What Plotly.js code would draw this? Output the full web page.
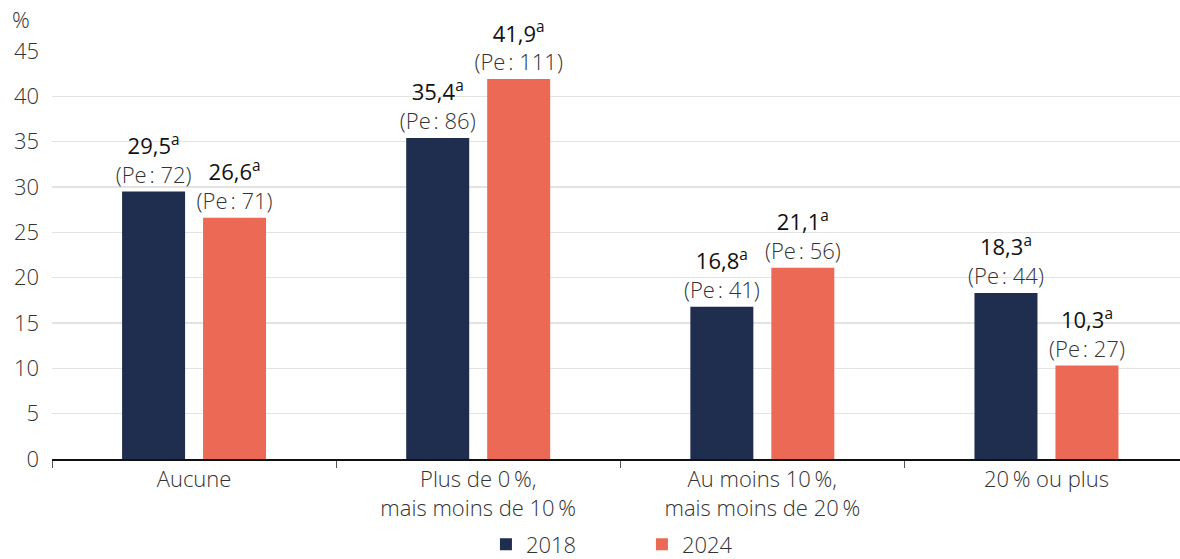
<!DOCTYPE html>
<html>
<head>
<meta charset="utf-8">
<script src="https://cdn.plot.ly/plotly-3.0.1.min.js"></script>
<style>html,body{margin:0;padding:0;background:#fff;}#chart{width:1180px;height:559px;}</style>
</head>
<body>
<div id="chart"></div>
<script>
const categories = ["Aucune", "Plus de 0\u2009%,<br>mais moins de 10\u2009%", "Au moins 10\u2009%,<br>mais moins de 20\u2009%", "20\u2009% ou plus"];
const values2018 = [29.5, 35.4, 16.8, 18.3];
const values2024 = [26.6, 41.9, 21.1, 10.3];
const pe2018 = [72, 86, 41, 44];
const pe2024 = [71, 111, 56, 27];
const seriesNames = ["2018", "2024"];
const yTicks = [0, 5, 10, 15, 20, 25, 30, 35, 40, 45];

const fmt = v => v.toFixed(1).replace(".", ",");
const label = (v, pe) => '<span style="color:#111;font-weight:400">' + fmt(v) + '<sup>a</sup></span><br><span style="color:#333;font-weight:300">(Pe\u202F: ' + pe + ')</span>';

const FONT = "Open Sans, sans-serif";
const FS = 22;
const traces = [
  {type: "bar", name: seriesNames[0], x: categories, y: values2018,
   marker: {color: "#1f2d4e"},
   text: values2018.map((v, i) => label(v, pe2018[i])),
   textposition: "outside", cliponaxis: false, constraintext: "none",
   textfont: {family: FONT, size: FS, color: "#111"}, hoverinfo: "skip"},
  {type: "bar", name: seriesNames[1], x: categories, y: values2024,
   marker: {color: "#ec6a55"},
   text: values2024.map((v, i) => label(v, pe2024[i])),
   textposition: "outside", cliponaxis: false, constraintext: "none",
   textfont: {family: FONT, size: FS, color: "#111"}, hoverinfo: "skip"}
];

const layout = {
  width: 1180, height: 559,
  margin: {l: 52, r: 0, t: 51, b: 100},
  paper_bgcolor: "#fff", plot_bgcolor: "#fff",
  font: {family: FONT, size: FS, color: "#333", weight: 300},
  barmode: "group", bargap: 0.43, bargroupgap: 0.222,
  showlegend: true,
  legend: {orientation: "h", x: 0.523, xanchor: "center", xref: "paper",
           y: 0.026, yref: "container", yanchor: "middle",
           font: {family: FONT, size: FS, color: "#333", weight: 300}, entrywidth: 111, traceorder: "normal"},
  xaxis: {type: "category", range: [-0.5, 3.47], showgrid: false,
          showline: true, linecolor: "#111", linewidth: 1.5,
          ticks: "outside", tickson: "boundaries", ticklen: 7, tickcolor: "#555", tickwidth: 1,
          tickfont: {family: FONT, size: FS, color: "#333", weight: 300}, fixedrange: true},
  yaxis: {range: [0, 45], tickvals: yTicks, ticktext: yTicks.map(String),
          showgrid: true, gridcolor: "#e3e3e3", gridwidth: 1.5, zeroline: false,
          showline: false, ticks: "", ticklabelstandoff: 12,
          tickfont: {family: FONT, size: FS, color: "#333", weight: 300}, fixedrange: true},
  annotations: [{text: "%", xref: "paper", yref: "paper", x: 0, y: 1, xshift: -42, yshift: 15,
                 xanchor: "left", yanchor: "bottom", showarrow: false,
                 font: {family: FONT, size: FS, color: "#333", weight: 300}}]
};

Plotly.newPlot("chart", traces, layout, {displayModeBar: false, staticPlot: true});
</script>
</body>
</html>
